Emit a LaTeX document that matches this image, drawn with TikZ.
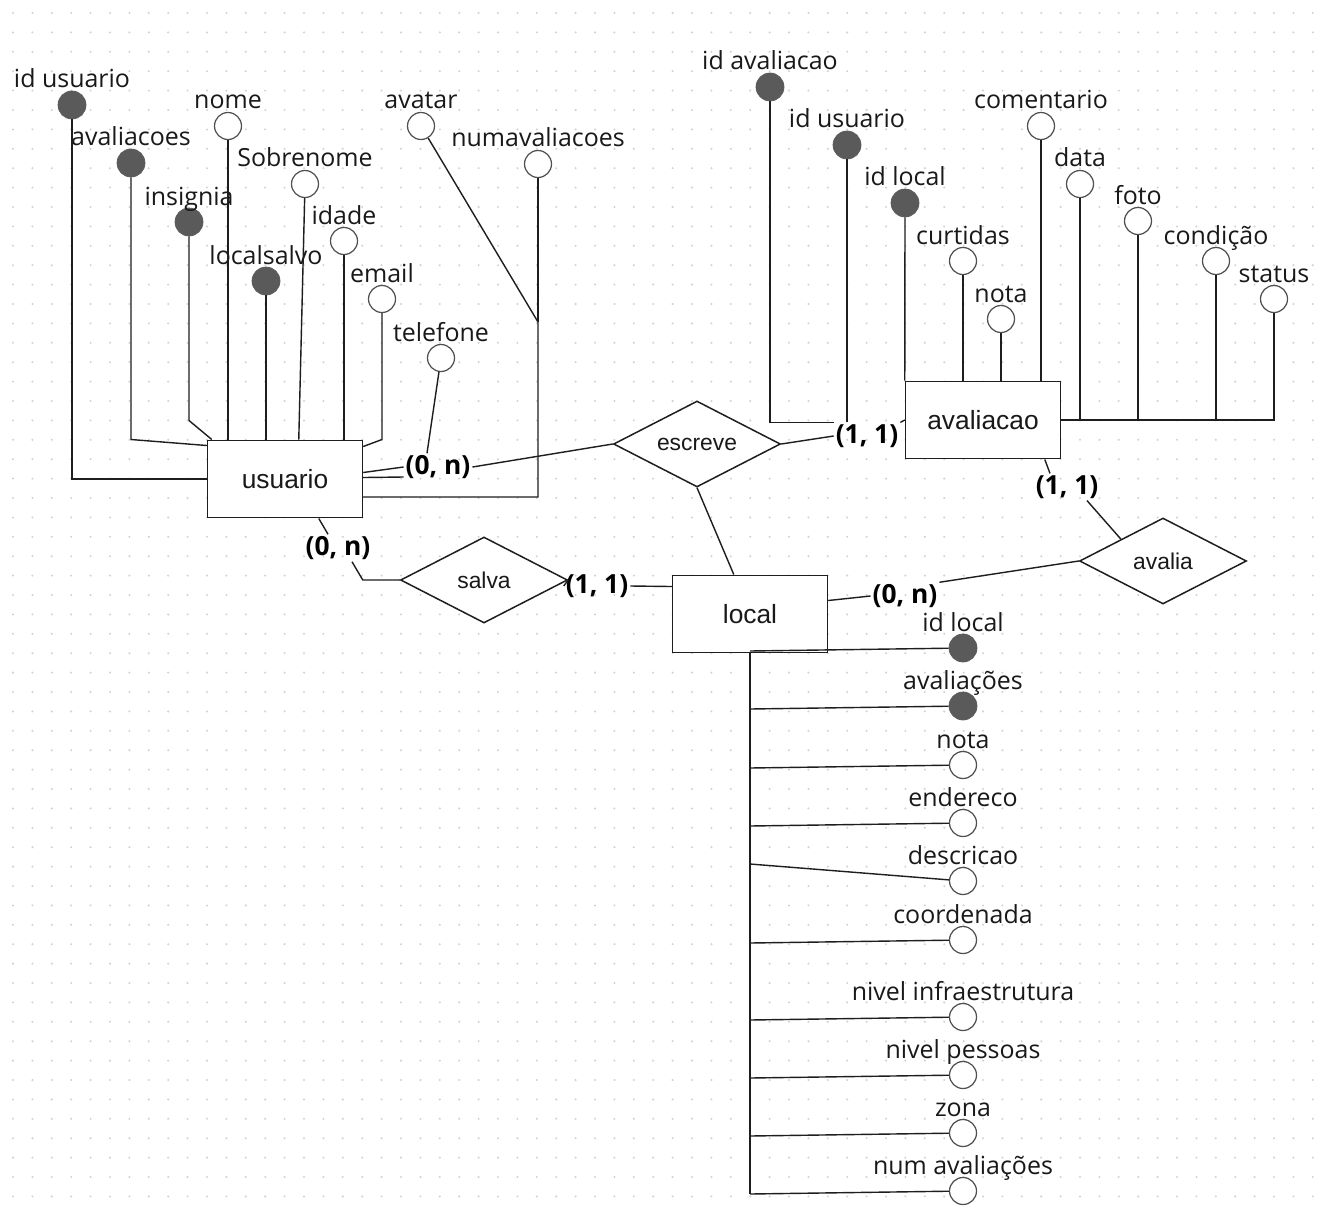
\documentclass[tikz,border=0pt]{standalone}
\usepackage{fontspec}
\setmainfont{Open Sans}
\newfontfamily\arialfont{Liberation Sans}
\usetikzlibrary{calc,positioning,shapes.geometric}
\definecolor{DotGray}{RGB}{210,210,210}
\definecolor{KeyGray}{RGB}{90,90,90}
\definecolor{RingGray}{RGB}{80,80,80}
\definecolor{LineGray}{RGB}{30,30,30}
\definecolor{TextGray}{RGB}{25,25,25}

\begin{document}
\begin{tikzpicture}[x=0.02cm,y=-0.02cm,
  pk/.style={circle,draw=KeyGray,fill=KeyGray,minimum size=0.56cm,inner sep=0pt},
  atr/.style={circle,draw=RingGray,fill=white,line width=0.7pt,minimum size=0.54cm,inner sep=0pt},
  lbl/.style={inner sep=0pt,text=TextGray,font=\fontsize{14.2}{16}\selectfont},
  ent/.style={draw=LineGray,line width=0.85pt,fill=white,minimum width=3.1cm,minimum height=1.55cm,text=TextGray,font=\arialfont\fontsize{15}{18}\selectfont},
  rel/.style={diamond,aspect=2,draw=LineGray,line width=0.85pt,fill=white,minimum width=3.34cm,minimum height=1.72cm,inner sep=0pt,text=TextGray,font=\arialfont\fontsize{13}{16}\selectfont},
  card/.style={inner sep=1pt,text=black,font=\bfseries\fontsize{15}{18}\selectfont},
  link/.style={draw=LineGray,line width=0.8pt}]

% background with dots
\fill[white] (0,0) rectangle (1327,1213);
\useasboundingbox (0,0) rectangle (1327,1213);
\foreach \i in {0,...,67}
  \foreach \j in {0,...,61}
    \fill[DotGray] (13+19.4*\i,13+19.4*\j) circle (0.65pt);

% entities and relationships
\node[ent] (usuario) at (285,479) {usuario};
\node[ent] (avaliacao) at (983,420) {avaliacao};
\node[ent] (local) at (750,614) {local};
\node[rel] (escreve) at (697,444) {escreve};
\node[rel] (salva) at (484,580) {salva};
\node[rel] (avalia) at (1163,561) {avalia};

% attributes of usuario
\foreach \n/\x/\y/\t in {ua1/72/105/id usuario,ua2/131/163/avaliacoes,ua3/189/222/insignia,ua5/266/281/localsalvo}{
  \node[pk] (\n) at (\x,\y) {};
  \node[lbl,anchor=base] (\n-t) at (\x,\y-17) {\t};
}
\foreach \n/\x/\y/\t in {ua4/228/126/nome,ua6/305/184/Sobrenome,ua7/344/241/idade,ua8/382/299/email,ua9/441/358/telefone,ua10/421/126/avatar,ua11/538/164/numavaliacoes}{
  \node[atr] (\n) at (\x,\y) {};
  \node[lbl,anchor=base] (\n-t) at (\x,\y-17) {\t};
}

% attributes of avaliacao
\foreach \n/\x/\y/\t in {va1/770/87/id avaliacao,va2/847/145/id usuario,va3/905/203/id local}{
  \node[pk] (\n) at (\x,\y) {};
  \node[lbl,anchor=base] (\n-t) at (\x,\y-17) {\t};
}
\foreach \n/\x/\y/\t in {va4/963/261/curtidas,va5/1001/319/nota,va6/1041/126/comentario,va7/1080/184/data,va8/1138/221/foto,va9/1216/261/condição,va10/1274/299/status}{
  \node[atr] (\n) at (\x,\y) {};
  \node[lbl,anchor=base] (\n-t) at (\x,\y-17) {\t};
}

% attributes of local
\foreach \n/\y/\t in {la1/648/id local,la2/706/avaliações}{
  \node[pk] (\n) at (963,\y) {};
  \node[lbl,anchor=base] (\n-t) at (963,\y-17) {\t};
}
\foreach \n/\y/\t in {la3/765/nota,la4/823/endereco,la5/881/descricao,la6/940/coordenada,la7/1017/nivel infraestrutura,la8/1075/nivel pessoas,la9/1133/zona,la10/1191/num avaliações}{
  \node[atr] (\n) at (963,\y) {};
  \node[lbl,anchor=base] (\n-t) at (963,\y-17) {\t};
}

% cardinalities
\node[card] (cUE) at (438,467) {(0, n)};
\node[card] (cEA) at (867,436) {(1, 1)};
\node[card] (cAA) at (1067,487) {(1, 1)};
\node[card] (cAL) at (905,596) {(0, n)};
\node[card] (cUS) at (338,548) {(0, n)};
\node[card] (cSL) at (597,586) {(1, 1)};

\coordinate (ubend) at (538,322);
\coordinate (ujoin) at (538,497);

% usuario links
\draw[link] (ua1) |- (usuario.west);
\draw[link] (ua2) -- (ua2 |- usuario.north) -- ($(usuario.north west)+(0,6)$);
\draw[link] (ua3) -- ($(ua3 |- usuario.north)+(0,-19)$) -- ($(usuario.north west)+(5,0)$);
\draw[link] (ua4) -- (ua4 |- usuario.north);
\draw[link] (ua5) -- (ua5 |- usuario.north);
\draw[link] (ua6) -- ($(usuario.north west)+(92,0)$);
\draw[link] (ua7) -- (ua7 |- usuario.north);
\draw[link] (ua8) -- (ua8 |- usuario.north) -- ($(usuario.north east)+(0,7)$);
\draw[link] (ua9) -- ($(cUE.north)+(-11,0)$);
\draw[link] (ua11) -- (ubend);
\draw[link] (ua10) -- (ubend) -- (ujoin) -- (usuario.east |- ujoin);

% avaliacao links
\draw[link] (va1) |- (cEA.north west);
\draw[link] (va2) -- (va2 |- cEA.north);
\draw[link] (va3) -- (avaliacao.north west);
\draw[link] (va4) -- (va4 |- avaliacao.north);
\draw[link] (va5) -- (va5 |- avaliacao.north);
\draw[link] (va6) -- (va6 |- avaliacao.north);
\draw[link] (va7) -- (va7 |- avaliacao.east);
\draw[link] (va8) -- (va8 |- avaliacao.east);
\draw[link] (va9) -- (va9 |- avaliacao.east);
\draw[link,line width=1.1pt] (avaliacao.east) -| (va10);

% local links
\draw[link,line width=1.4pt] (local.south) -- ($(local.south |- la10)+(0,3)$);
\foreach \n in {la1,la2,la3,la4,la6,la7,la8,la9,la10}
  \draw[link] ($(local.south |- \n)+(0,3)$) -- (\n);
\draw[link] ($(local.south |- la5)+(0,-17)$) -- (la5);

% relationship links
\draw[link] ($(usuario.north east)+(0,33)$) -- (cUE.west);
\draw[link] ($(usuario.north east)+(0,38)$) -- ($(cUE.west)+(0,10)$);
\draw[link] (cUE.east) -- (escreve.west);
\draw[link] (escreve.east) -- (cEA.west);
\draw[link] (cEA.north east) -- (avaliacao.west);
\draw[link] (escreve.south) -- ($(local.north west)+(62,0)$);
\draw[link] ($(avaliacao.south west)+(140,0)$) -- ($(cAA.north)+(-17,0)$);
\draw[link] ($(cAA.south)+(20,0)$) -- (avalia.north west);
\draw[link] (avalia.west) -- (cAL.north east);
\draw[link] ($(local.north east)+(0,26)$) -- (cAL.west);
\draw[link] ($(usuario.south west)+(112,0)$) -- ($(cUS.north)+(-10,0)$);
\draw[link] ($(cUS.south)+(14,0)$) -- ($(salva.west)+(-37,0)$) -- (salva.west);
\draw[link] (salva.east) -- (cSL.west);
\draw[link] (cSL.east) -- ($(local.north west)+(0,12)$);
\end{tikzpicture}
\end{document}
